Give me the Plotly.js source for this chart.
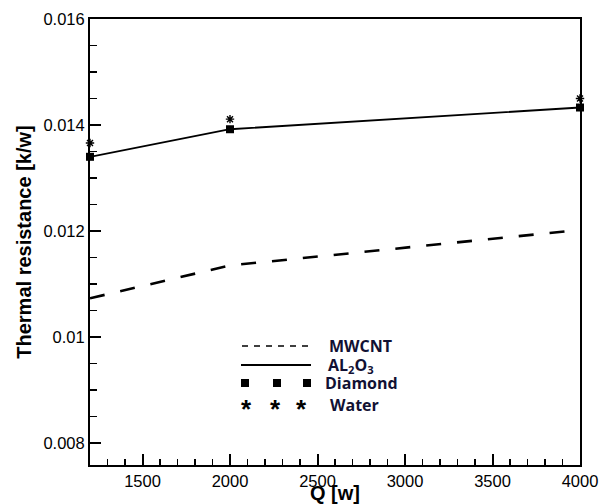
<!DOCTYPE html>
<html>
<head>
<meta charset="utf-8">
<script src="https://cdn.plot.ly/plotly-3.0.1.min.js"></script>
<style>html,body{margin:0;padding:0;background:#fff;}#chart{width:599px;height:504px;}</style>
</head>
<body>
<div id="chart"></div>
<script>
// ---- data ----
const Q = [1200, 2000, 4000];
const mwcnt = [0.01073, 0.01135, 0.01202];
const al2o3 = [0.01340, 0.01392, 0.01433];
const diamond = [0.01340, 0.01392, 0.01433];
const water = [0.01366, 0.01411, 0.01450];
const yTickVals = [0.008, 0.010, 0.012, 0.014, 0.016];
const yTickText = ['0.008', '0.01', '0.012', '0.014', '0.016'];
const legendNames = ['MWCNT', 'AL<sub>2</sub>O<sub>3</sub>', 'Diamond', 'Water'];
const xTitle = 'Q [w]';
const yTitle = 'Thermal resistance [k/w]';

// plot area in pixels
const L = 90, R = 580, T = 19, B = 465;
const W = 599, H = 504;
const px = x => (x - L) / (R - L);
const py = y => (B - y) / (B - T);

const traces = [
  {x: Q, y: mwcnt, mode: 'lines', line: {color: '#000', width: 2.6, dash: '15px,16px'}, name: 'MWCNT'},
  {x: Q, y: al2o3, mode: 'lines', line: {color: '#000', width: 1.8}, name: 'AL2O3'},
  {x: Q, y: diamond, mode: 'markers', marker: {symbol: 'square', size: 8, color: '#000'}, cliponaxis: false, name: 'Diamond'},
  {x: Q, y: water, mode: 'markers', marker: {symbol: 'asterisk-open', size: 7, color: '#000', line: {color: '#000', width: 1.4}}, cliponaxis: false, name: 'Water'}
];

const textFont = {family: 'Open Sans, Liberation Sans, sans-serif', size: 16, color: '#111133', weight: 'bold'};
const rowsY = [346, 365, 383, 405];
const textX = [327, 326, 323, 328];

const shapes = [
  {type: 'line', xref: 'paper', yref: 'paper', x0: px(242), x1: px(310), y0: py(rowsY[0]), y1: py(rowsY[0]), line: {color: '#000', width: 1.6, dash: '6px,6px'}},
  {type: 'line', xref: 'paper', yref: 'paper', x0: px(241), x1: px(311), y0: py(rowsY[1]), y1: py(rowsY[1]), line: {color: '#000', width: 1.8}}
];
[245, 277, 307].forEach(cx => {
  shapes.push({type: 'rect', xref: 'paper', yref: 'paper', x0: px(cx - 4), x1: px(cx + 4), y0: py(rowsY[2] - 4), y1: py(rowsY[2] + 4), fillcolor: '#000', line: {width: 0}});
});

const tickFont = {family: 'Liberation Sans, Arial, sans-serif', size: 16.5, color: '#000'};
const titleFont = {family: 'Liberation Sans, Arial, sans-serif', size: 20, color: '#000', weight: 'bold'};

const annotations = legendNames.map((n, i) => ({
  text: n, xref: 'paper', yref: 'paper', x: px(textX[i]), y: py(rowsY[i]),
  xanchor: 'left', yanchor: 'middle', showarrow: false, font: textFont
}));
[246, 275, 301].forEach(cx => {
  annotations.push({text: '*', xref: 'paper', yref: 'paper', x: px(cx), y: py(rowsY[3] + 4),
    xanchor: 'center', yanchor: 'middle', showarrow: false,
    font: {family: 'Liberation Sans, Arial, sans-serif', size: 26, color: '#000', weight: 'bold'}});
});
// x-axis title just below the tick labels (bottom slightly cut by the image edge, as in the reference)
annotations.push({text: xTitle, xref: 'paper', yref: 'paper', x: 0.5, y: py(480),
  xanchor: 'center', yanchor: 'top', showarrow: false, font: titleFont});

const layout = {
  width: W, height: H,
  margin: {l: L, r: W - R, t: T, b: H - B, pad: 0},
  paper_bgcolor: '#fff', plot_bgcolor: '#fff',
  showlegend: false,
  xaxis: {
    range: [1200, 4000], tickmode: 'linear', tick0: 1500, dtick: 500,
    ticks: 'inside', ticklen: 11, tickwidth: 2, tickcolor: '#000',
    minor: {ticks: 'inside', dtick: 100, ticklen: 6, tickwidth: 1.5, tickcolor: '#000', showgrid: false},
    showline: true, linecolor: '#000', linewidth: 2, mirror: true,
    showgrid: false, zeroline: false, tickfont: tickFont
  },
  yaxis: {
    range: [0.007585, 0.016], tickmode: 'array', tickvals: yTickVals, ticktext: yTickText,
    ticks: 'inside', ticklen: 11, tickwidth: 2, tickcolor: '#000',
    minor: {ticks: 'inside', dtick: 0.0005, tick0: 0.008, ticklen: 7, tickwidth: 1.5, tickcolor: '#000', showgrid: false},
    showline: true, linecolor: '#000', linewidth: 2, mirror: true,
    showgrid: false, zeroline: false, tickfont: tickFont,
    title: {text: yTitle, font: titleFont, standoff: 6}
  },
  shapes: shapes,
  annotations: annotations
};

Plotly.newPlot('chart', traces, layout, {staticPlot: true, displayModeBar: false});
</script>
</body>
</html>
